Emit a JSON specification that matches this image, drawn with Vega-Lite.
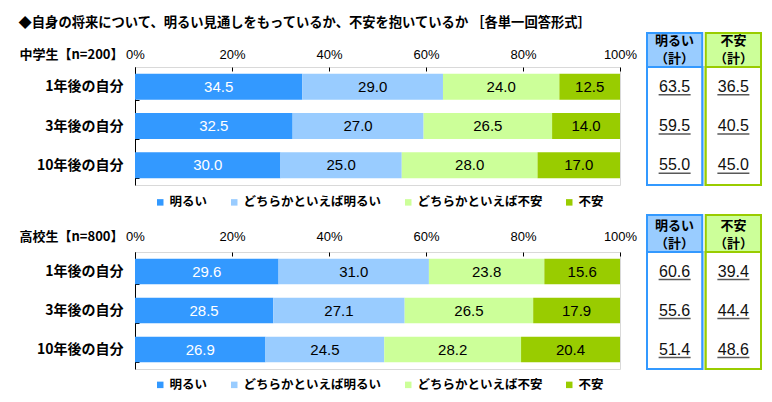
{
  "$schema": "https://vega.github.io/schema/vega-lite/v6.json",
  "padding": {"left": 18, "top": 15, "right": 5, "bottom": 5},
  "background": "white",
  "title": {"text": "◆自身の将来について、明るい見通しをもっているか、不安を抱いているか ［各単一回答形式］", "anchor": "start", "frame": "bounds", "font": "Noto Sans CJK JP", "fontSize": 13.3, "fontWeight": "bold", "color": "black", "offset": 3},
  "datasets": {
    "bars": [
      {"p": "中学生", "row": "1年後の自分", "cat": "明るい", "k": 1, "v": 34.5},
      {"p": "中学生", "row": "1年後の自分", "cat": "どちらかといえば明るい", "k": 2, "v": 29.0},
      {"p": "中学生", "row": "1年後の自分", "cat": "どちらかといえば不安", "k": 3, "v": 24.0},
      {"p": "中学生", "row": "1年後の自分", "cat": "不安", "k": 4, "v": 12.5},
      {"p": "中学生", "row": "3年後の自分", "cat": "明るい", "k": 1, "v": 32.5},
      {"p": "中学生", "row": "3年後の自分", "cat": "どちらかといえば明るい", "k": 2, "v": 27.0},
      {"p": "中学生", "row": "3年後の自分", "cat": "どちらかといえば不安", "k": 3, "v": 26.5},
      {"p": "中学生", "row": "3年後の自分", "cat": "不安", "k": 4, "v": 14.0},
      {"p": "中学生", "row": "10年後の自分", "cat": "明るい", "k": 1, "v": 30.0},
      {"p": "中学生", "row": "10年後の自分", "cat": "どちらかといえば明るい", "k": 2, "v": 25.0},
      {"p": "中学生", "row": "10年後の自分", "cat": "どちらかといえば不安", "k": 3, "v": 28.0},
      {"p": "中学生", "row": "10年後の自分", "cat": "不安", "k": 4, "v": 17.0},
      {"p": "高校生", "row": "1年後の自分", "cat": "明るい", "k": 1, "v": 29.6},
      {"p": "高校生", "row": "1年後の自分", "cat": "どちらかといえば明るい", "k": 2, "v": 31.0},
      {"p": "高校生", "row": "1年後の自分", "cat": "どちらかといえば不安", "k": 3, "v": 23.8},
      {"p": "高校生", "row": "1年後の自分", "cat": "不安", "k": 4, "v": 15.6},
      {"p": "高校生", "row": "3年後の自分", "cat": "明るい", "k": 1, "v": 28.5},
      {"p": "高校生", "row": "3年後の自分", "cat": "どちらかといえば明るい", "k": 2, "v": 27.1},
      {"p": "高校生", "row": "3年後の自分", "cat": "どちらかといえば不安", "k": 3, "v": 26.5},
      {"p": "高校生", "row": "3年後の自分", "cat": "不安", "k": 4, "v": 17.9},
      {"p": "高校生", "row": "10年後の自分", "cat": "明るい", "k": 1, "v": 26.9},
      {"p": "高校生", "row": "10年後の自分", "cat": "どちらかといえば明るい", "k": 2, "v": 24.5},
      {"p": "高校生", "row": "10年後の自分", "cat": "どちらかといえば不安", "k": 3, "v": 28.2},
      {"p": "高校生", "row": "10年後の自分", "cat": "不安", "k": 4, "v": 20.4}
    ],
    "totals": [
      {"p": "中学生", "row": "1年後の自分", "col": "明るい（計）", "v": 63.5},
      {"p": "中学生", "row": "1年後の自分", "col": "不安（計）", "v": 36.5},
      {"p": "中学生", "row": "3年後の自分", "col": "明るい（計）", "v": 59.5},
      {"p": "中学生", "row": "3年後の自分", "col": "不安（計）", "v": 40.5},
      {"p": "中学生", "row": "10年後の自分", "col": "明るい（計）", "v": 55.0},
      {"p": "中学生", "row": "10年後の自分", "col": "不安（計）", "v": 45.0},
      {"p": "高校生", "row": "1年後の自分", "col": "明るい（計）", "v": 60.6},
      {"p": "高校生", "row": "1年後の自分", "col": "不安（計）", "v": 39.4},
      {"p": "高校生", "row": "3年後の自分", "col": "明るい（計）", "v": 55.6},
      {"p": "高校生", "row": "3年後の自分", "col": "不安（計）", "v": 44.4},
      {"p": "高校生", "row": "10年後の自分", "col": "明るい（計）", "v": 51.4},
      {"p": "高校生", "row": "10年後の自分", "col": "不安（計）", "v": 48.6}
    ],
    "heads": [
      {"col": "明るい（計）", "l1": "明るい", "l2": "（計）"},
      {"col": "不安（計）", "l1": "不安", "l2": "（計）"}
    ]
  },
  "columns": 2,
  "bounds": "flush",
  "align": "each",
  "spacing": {"row": 0, "column": 27},
  "resolve": {"scale": {"color": "independent"}, "legend": {"color": "independent"}},
  "concat": [
    {"width": 485, "height": 34, "data": {"values": [{}]}, "mark": {"type": "text", "text": ""}, "encoding": {}, "view": {"stroke": null}},
    {
      "width": 114, "height": 34,
      "data": {"name": "heads"},
      "view": {"stroke": null},
      "encoding": {"x": {"field": "col", "type": "nominal", "sort": ["明るい（計）", "不安（計）"], "scale": {"paddingInner": 0.06, "paddingOuter": 0}, "axis": null}},
      "layer": [
        {"mark": {"type": "rect", "strokeWidth": 2}, "encoding": {
          "fill": {"field": "col", "type": "nominal", "scale": {"domain": ["明るい（計）", "不安（計）"], "range": ["#99CCFF", "#CCFF99"]}, "legend": null},
          "stroke": {"field": "col", "type": "nominal", "scale": {"domain": ["明るい（計）", "不安（計）"], "range": ["#3399FF", "#99CC00"]}, "legend": null}}},
        {"mark": {"type": "text", "font": "Noto Sans CJK JP", "fontSize": 13, "fontWeight": "bold", "dy": -9, "color": "black"}, "encoding": {"text": {"field": "l1"}}},
        {"mark": {"type": "text", "font": "Noto Sans CJK JP", "fontSize": 13, "fontWeight": "bold", "dy": 9, "color": "black"}, "encoding": {"text": {"field": "l2"}}}
      ]
    },
    {
      "width": 485, "height": 118,
      "data": {"name": "bars"},
      "transform": [{"filter": "datum.p === '中学生'"}],
      "view": {"stroke": "#d9d9d9"},
      "encoding": {
        "y": {"field": "row", "type": "nominal", "sort": ["1年後の自分", "3年後の自分", "10年後の自分"], "scale": {"paddingInner": 0.34, "paddingOuter": 0.17},
          "axis": {"title": "中学生【n=200】", "titleAngle": 0, "titleAlign": "left", "titleBaseline": "middle", "titleX": -116, "titleY": -13, "titleFont": "Noto Sans CJK JP", "titleFontSize": 13, "titleFontWeight": "bold", "titleColor": "black", "labelFont": "Noto Sans CJK JP", "labelFontSize": 14, "labelFontWeight": "bold", "labelColor": "black", "labelPadding": 16, "tickBand": "extent", "tickSize": -4, "tickColor": "black", "domainColor": "black", "labelLimit": 200}}
      },
      "layer": [
        {"mark": {"type": "bar"}, "encoding": {
          "x": {"field": "v", "type": "quantitative", "stack": "zero", "scale": {"domain": [0, 100], "nice": false},
            "axis": {"orient": "top", "values": [0, 20, 40, 60, 80, 100], "labelExpr": "datum.value + '%'", "title": null, "domain": false, "grid": false, "tickSize": -4, "tickColor": "black", "labelFont": "Liberation Sans", "labelFontSize": 13, "labelColor": "black", "labelPadding": 10, "labelFlush": false}},
          "color": {"field": "cat", "type": "nominal", "scale": {"domain": ["明るい", "どちらかといえば明るい", "どちらかといえば不安", "不安"], "range": ["#3399FF", "#99CCFF", "#CCFF99", "#99CC00"]},
            "legend": {"orient": "none", "legendX": 19, "legendY": 129, "direction": "horizontal", "title": null, "symbolType": "square", "symbolSize": 42, "symbolStrokeWidth": 0, "labelFont": "Noto Sans CJK JP", "labelFontSize": 12.5, "labelFontWeight": "bold", "labelColor": "black", "columnPadding": 20, "labelOffset": 3}},
          "order": {"field": "k", "type": "quantitative"}}},
        {"mark": {"type": "text", "font": "Liberation Sans", "fontSize": 15}, "encoding": {
          "x": {"field": "v", "type": "quantitative", "stack": "zero", "bandPosition": 0.5},
          "text": {"field": "v", "type": "quantitative", "format": ".1f"},
          "detail": {"field": "cat"},
          "order": {"field": "k", "type": "quantitative"},
          "color": {"condition": {"test": "datum.cat === '明るい'", "value": "white"}, "value": "black"}}}
      ]
    },
    {
      "width": 114, "height": 118,
      "data": {"name": "totals"},
      "transform": [{"filter": "datum.p === '中学生'"}],
      "view": {"stroke": null},
      "encoding": {"x": {"field": "col", "type": "nominal", "sort": ["明るい（計）", "不安（計）"], "scale": {"paddingInner": 0.06, "paddingOuter": 0}, "axis": null}},
      "layer": [
        {"mark": {"type": "rect", "fill": "white", "strokeWidth": 2}, "encoding": {
          "stroke": {"field": "col", "type": "nominal", "scale": {"domain": ["明るい（計）", "不安（計）"], "range": ["#3399FF", "#99CC00"]}, "legend": null}}},
        {"mark": {"type": "text", "font": "Liberation Sans", "fontSize": 16, "color": "#111111"}, "encoding": {
          "y": {"field": "row", "type": "nominal", "sort": ["1年後の自分", "3年後の自分", "10年後の自分"], "scale": {"paddingInner": 0.34, "paddingOuter": 0.17}, "axis": null},
          "text": {"field": "v", "type": "quantitative", "format": ".1f"}}},
        {"mark": {"type": "tick", "orient": "horizontal", "size": 32, "thickness": 1.5, "yOffset": 8, "color": "#111111"}, "encoding": {
          "y": {"field": "row", "type": "nominal", "sort": ["1年後の自分", "3年後の自分", "10年後の自分"], "axis": null}}}
      ]
    },
    {"width": 485, "height": 30, "data": {"values": [{}]}, "mark": {"type": "text", "text": ""}, "encoding": {}, "view": {"stroke": null}},
    {"width": 114, "height": 30, "data": {"values": [{}]}, "mark": {"type": "text", "text": ""}, "encoding": {}, "view": {"stroke": null}},
    {"width": 485, "height": 37, "data": {"values": [{}]}, "mark": {"type": "text", "text": ""}, "encoding": {}, "view": {"stroke": null}},
    {
      "width": 114, "height": 37,
      "data": {"name": "heads"},
      "view": {"stroke": null},
      "encoding": {"x": {"field": "col", "type": "nominal", "sort": ["明るい（計）", "不安（計）"], "scale": {"paddingInner": 0.06, "paddingOuter": 0}, "axis": null}},
      "layer": [
        {"mark": {"type": "rect", "strokeWidth": 2}, "encoding": {
          "fill": {"field": "col", "type": "nominal", "scale": {"domain": ["明るい（計）", "不安（計）"], "range": ["#99CCFF", "#CCFF99"]}, "legend": null},
          "stroke": {"field": "col", "type": "nominal", "scale": {"domain": ["明るい（計）", "不安（計）"], "range": ["#3399FF", "#99CC00"]}, "legend": null}}},
        {"mark": {"type": "text", "font": "Noto Sans CJK JP", "fontSize": 13, "fontWeight": "bold", "dy": -8, "color": "black"}, "encoding": {"text": {"field": "l1"}}},
        {"mark": {"type": "text", "font": "Noto Sans CJK JP", "fontSize": 13, "fontWeight": "bold", "dy": 10.5, "color": "black"}, "encoding": {"text": {"field": "l2"}}}
      ]
    },
    {
      "width": 485, "height": 117,
      "data": {"name": "bars"},
      "transform": [{"filter": "datum.p === '高校生'"}],
      "view": {"stroke": "#d9d9d9"},
      "encoding": {
        "y": {"field": "row", "type": "nominal", "sort": ["1年後の自分", "3年後の自分", "10年後の自分"], "scale": {"paddingInner": 0.34, "paddingOuter": 0.17},
          "axis": {"title": "高校生【n=800】", "titleAngle": 0, "titleAlign": "left", "titleBaseline": "middle", "titleX": -116, "titleY": -16, "titleFont": "Noto Sans CJK JP", "titleFontSize": 13, "titleFontWeight": "bold", "titleColor": "black", "labelFont": "Noto Sans CJK JP", "labelFontSize": 14, "labelFontWeight": "bold", "labelColor": "black", "labelPadding": 16, "tickBand": "extent", "tickSize": -4, "tickColor": "black", "domainColor": "black", "labelLimit": 200}}
      },
      "layer": [
        {"mark": {"type": "bar"}, "encoding": {
          "x": {"field": "v", "type": "quantitative", "stack": "zero", "scale": {"domain": [0, 100], "nice": false},
            "axis": {"orient": "top", "values": [0, 20, 40, 60, 80, 100], "labelExpr": "datum.value + '%'", "title": null, "domain": false, "grid": false, "tickSize": -4, "tickColor": "black", "labelFont": "Liberation Sans", "labelFontSize": 13, "labelColor": "black", "labelPadding": 13, "labelFlush": false}},
          "color": {"field": "cat", "type": "nominal", "scale": {"domain": ["明るい", "どちらかといえば明るい", "どちらかといえば不安", "不安"], "range": ["#3399FF", "#99CCFF", "#CCFF99", "#99CC00"]},
            "legend": {"orient": "none", "legendX": 19, "legendY": 126.5, "direction": "horizontal", "title": null, "symbolType": "square", "symbolSize": 42, "symbolStrokeWidth": 0, "labelFont": "Noto Sans CJK JP", "labelFontSize": 12.5, "labelFontWeight": "bold", "labelColor": "black", "columnPadding": 20, "labelOffset": 3}},
          "order": {"field": "k", "type": "quantitative"}}},
        {"mark": {"type": "text", "font": "Liberation Sans", "fontSize": 15}, "encoding": {
          "x": {"field": "v", "type": "quantitative", "stack": "zero", "bandPosition": 0.5},
          "text": {"field": "v", "type": "quantitative", "format": ".1f"},
          "detail": {"field": "cat"},
          "order": {"field": "k", "type": "quantitative"},
          "color": {"condition": {"test": "datum.cat === '明るい'", "value": "white"}, "value": "black"}}}
      ]
    },
    {
      "width": 114, "height": 117,
      "data": {"name": "totals"},
      "transform": [{"filter": "datum.p === '高校生'"}],
      "view": {"stroke": null},
      "encoding": {"x": {"field": "col", "type": "nominal", "sort": ["明るい（計）", "不安（計）"], "scale": {"paddingInner": 0.06, "paddingOuter": 0}, "axis": null}},
      "layer": [
        {"mark": {"type": "rect", "fill": "white", "strokeWidth": 2}, "encoding": {
          "stroke": {"field": "col", "type": "nominal", "scale": {"domain": ["明るい（計）", "不安（計）"], "range": ["#3399FF", "#99CC00"]}, "legend": null}}},
        {"mark": {"type": "text", "font": "Liberation Sans", "fontSize": 16, "color": "#111111"}, "encoding": {
          "y": {"field": "row", "type": "nominal", "sort": ["1年後の自分", "3年後の自分", "10年後の自分"], "scale": {"paddingInner": 0.34, "paddingOuter": 0.17}, "axis": null},
          "text": {"field": "v", "type": "quantitative", "format": ".1f"}}},
        {"mark": {"type": "tick", "orient": "horizontal", "size": 32, "thickness": 1.5, "yOffset": 8, "color": "#111111"}, "encoding": {
          "y": {"field": "row", "type": "nominal", "sort": ["1年後の自分", "3年後の自分", "10年後の自分"], "axis": null}}}
      ]
    }
  ]
}
